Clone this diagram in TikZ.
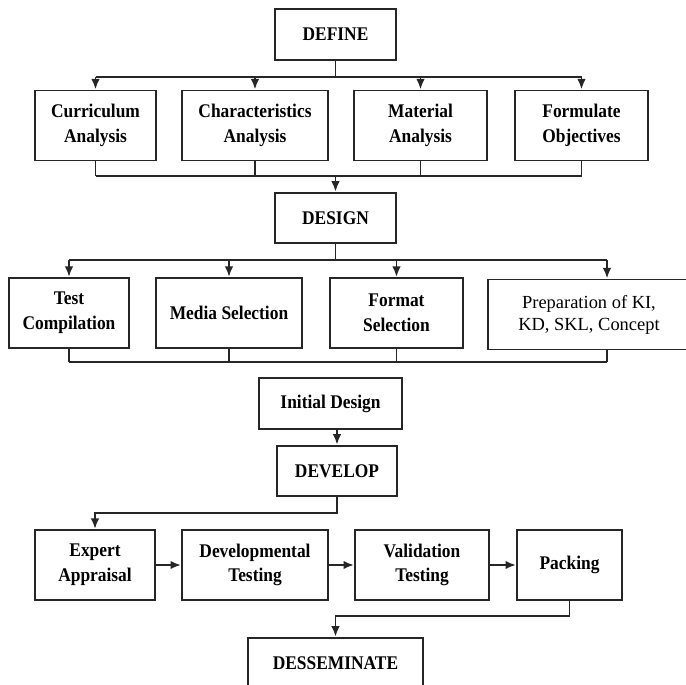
\documentclass[tikz,border=0pt]{standalone}
\usepackage{fontspec}
\setmainfont{Liberation Serif}
\newfontfamily\stagefont{Liberation Serif}[FakeStretch=0.9]
\usetikzlibrary{arrows.meta}

\begin{document}
\begin{tikzpicture}[x=0.02cm, y=-0.02cm]
    % 设置样式
    \tikzset{
        stage/.style={draw=black!85, line width=1.1pt, align=center, inner sep=0pt,
            minimum height=1.01cm, font=\stagefont\bfseries\fontsize{11}{14}\selectfont},
        task/.style={stage, minimum height=1.4cm},
        note/.style={task, font=\fontsize{10.5}{12.5}\selectfont},
        link/.style={draw=black!85, line width=1.1pt},
        arr/.style={link, -{Latex[length=6pt,width=4.8pt]}},
    }

    % 画布范围
    \useasboundingbox (0,0) rectangle (686,685);

    % DEFINE 阶段
    \node[stage, minimum width=2.42cm] (define) at (335.5,34.5) {DEFINE};
    \foreach \name/\x/\w/\txt in {cur/95.5/2.42/Curriculum\\Analysis,
            cha/255/2.92/Characteristics\\Analysis,
            mat/420.5/2.66/Material\\Analysis,
            frm/581.5/2.66/Formulate\\Objectives} {
        \node[task, minimum width=\w cm] (\name) at (\x,125.5) {\txt};
    }

    % DEFINE 的连线
    \coordinate (busa) at (335.5,77);
    \coordinate (busb) at (335.5,176);
    \draw[link] (define.south) -- (busa);
    \draw[link] (busa -| cur) -- (busa -| frm);
    \draw[link] (busb -| cur) -- (busb -| frm);
    \foreach \name in {cur,cha,mat,frm} {
        \draw[arr] (busa -| \name) -- (\name.north);
        \draw[link] (\name.south) -- (busb -| \name);
    }

    % DESIGN 阶段
    \node[stage, minimum width=2.42cm] (design) at (335.5,218) {DESIGN};
    \draw[arr] (busb) -- (design.north);
    \foreach \name/\x/\w/\txt in {test/69/2.4/Test\\Compilation,
            media/229/2.92/Media Selection,
            form/396.5/2.66/Format\\Selection} {
        \node[task, minimum width=\w cm] (\name) at (\x,313) {\txt};
    }
    \node[note, minimum width=4.04cm] (prep) at (589,314.5) {Preparation of KI,\\KD, SKL, Concept};

    % DESIGN 的连线
    \coordinate (busc) at (335.5,260);
    \coordinate (busd) at (335.5,362);
    \coordinate (prepin) at (607,260);
    \draw[link] (design.south) -- (busc);
    \draw[link] (busc -| test) -- (prepin);
    \draw[link] (busd -| test) -- (busd -| prepin);
    \foreach \name in {test,media,form} {
        \draw[arr] (busc -| \name) -- (\name.north);
        \draw[link] (\name.south) -- (busd -| \name);
    }
    \draw[arr] (prepin) -- (prepin |- prep.north);
    \draw[link] (prep.south -| prepin) -- (busd -| prepin);

    % Initial Design 与 DEVELOP 阶段
    \node[stage, minimum width=2.86cm] (init) at (330.5,403.5) {Initial Design};
    \node[stage, minimum width=2.4cm] (develop) at (337,471) {DEVELOP};
    \draw[arr] (init.south -| develop) -- (develop.north);
    \foreach \name/\x/\w/\txt in {exp/95/2.4/Expert\\Appraisal,
            dev/255/2.92/Developmental\\Testing,
            val/422/2.68/Validation\\Testing,
            pack/569.5/2.1/Packing} {
        \node[task, minimum width=\w cm] (\name) at (\x,565) {\txt};
    }

    % DEVELOP 的连线
    \coordinate (buse) at (335.5,513);
    \draw[arr] (develop.south) |- (buse -| exp) -- (exp.north);
    \foreach \a/\b in {exp/dev, dev/val, val/pack} {
        \draw[arr] (\a) -- (\b);
    }

    % DESSEMINATE 阶段
    \node[stage, minimum width=3.5cm] (dissem) at (335.5,663) {DESSEMINATE};
    \coordinate (busf) at (335.5,616);
    \draw[arr] (pack.south) |- (busf -| dissem) -- (dissem.north);
\end{tikzpicture}
\end{document}
